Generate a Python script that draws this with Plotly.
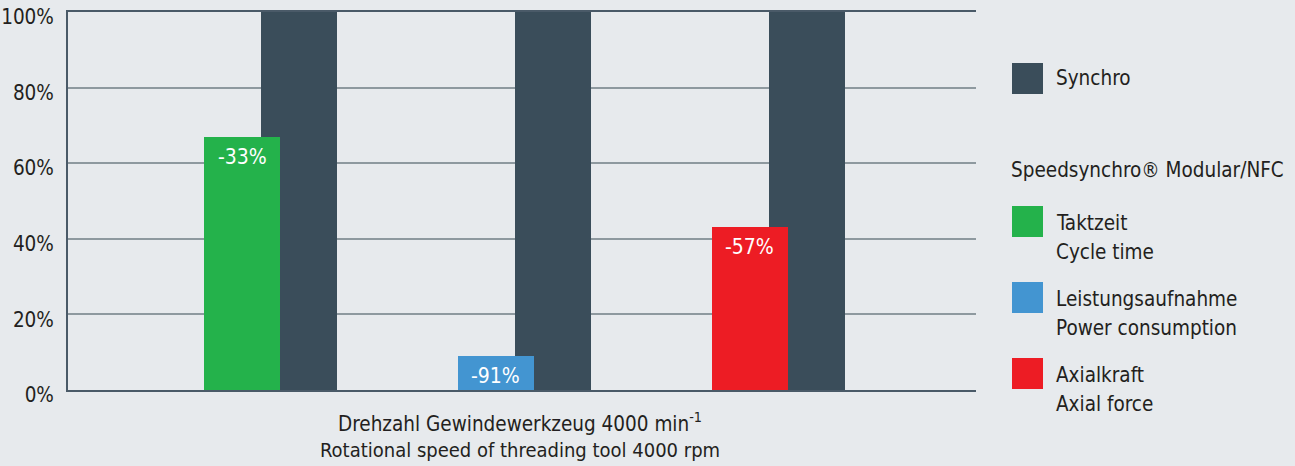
import plotly.graph_objects as go

# ---- data ----
groups = [0, 1, 2]
synchro_values = [100, 100, 100]
speed_values = [67, 9, 43]
speed_labels = ["-33%", "-91%", "-57%"]
speed_colors = ["#24b24b", "#4395d1", "#ed1c24"]
y_ticks = [0, 20, 40, 60, 80, 100]
y_ticktext = ["0%", "20%", "40%", "60%", "80%", "100%"]
legend_items = [
    ("Taktzeit", "Cycle time", "#24b24b"),
    ("Leistungsaufnahme", "Power consumption", "#4395d1"),
    ("Axialkraft", "Axial force", "#ed1c24"),
]
synchro_name = "Synchro"
group_title = "Speedsynchro® Modular/NFC"
axis_line1 = "Drehzahl Gewindewerkzeug 4000 min<sup>-1</sup>"
axis_line2 = "Rotational speed of threading tool 4000 rpm"

DARK = "#3a4d5a"
BG = "#e7eaed"
TXT = "#231f20"
FONT = "DejaVu Sans Condensed, Roboto, sans-serif"

W, H = 1295, 466
L, R, T, B = 68, 976, 12, 390

fig = go.Figure()
fig.add_trace(go.Bar(x=groups, y=synchro_values, width=0.30, offset=-0.0375,
                     marker=dict(color=DARK, line=dict(width=0)), showlegend=False,
                     hoverinfo="skip"))
fig.add_trace(go.Bar(x=groups, y=speed_values, width=0.30, offset=-0.262,
                     marker=dict(color=speed_colors, line=dict(width=0)), showlegend=False,
                     hoverinfo="skip"))

for g, v, lab in zip(groups, speed_values, speed_labels):
    fig.add_annotation(x=g - 0.112, y=v, text=lab, showarrow=False, yanchor="middle",
                       yshift=-20, font=dict(family=FONT, size=21, color="white"))

def px_x(x):
    return (x - L) / (R - L)

def px_y(y):
    return (B - y) / (B - T)

annos = []
shapes = []

def square(x0, y0, color):
    shapes.append(dict(type="rect", xref="paper", yref="paper",
                       x0=px_x(x0), x1=px_x(x0 + 31), y0=px_y(y0 + 31), y1=px_y(y0),
                       fillcolor=color, line=dict(width=0)))

def text(x, y, s, size=20.5, color=TXT, anchor="left"):
    annos.append(dict(xref="paper", yref="paper", x=px_x(x), y=px_y(y), text=s,
                      showarrow=False, xanchor=anchor, yanchor="middle",
                      font=dict(family=FONT, size=size, color=color)))

square(1012, 63, DARK)
text(1054, 78, synchro_name)
text(1009, 170, group_title)
sq_y = [206, 282, 358]
for (l1, l2, c), y0 in zip(legend_items, sq_y):
    square(1012, y0, c)
    text(1054, y0 + 17, l1)
    text(1054, y0 + 46, l2)

text((L + R) / 2 - 2, 423, axis_line1, anchor="center")
text((L + R) / 2 - 2, 450, axis_line2, anchor="center", size=20)

fig.update_layout(
    width=W, height=H,
    margin=dict(l=L, r=W - R, t=T, b=H - B, pad=0, autoexpand=False),
    paper_bgcolor=BG, plot_bgcolor=BG,
    barmode="overlay", bargap=0,
    shapes=shapes, annotations=list(fig.layout.annotations) + annos,
    font=dict(family=FONT, color=TXT),
    xaxis=dict(range=[-0.798, 2.78], showticklabels=False, showgrid=False, zeroline=False,
               showline=True, mirror=True, linecolor="#4a5a68", linewidth=2, ticks="",
               automargin=False),
    yaxis=dict(range=[0, 100], tickvals=y_ticks, ticktext=y_ticktext, showgrid=True,
               gridcolor="#8e999f", gridwidth=1.5, zeroline=False, showline=True,
               linecolor="#4a5a68", linewidth=2, ticks="", ticklabelstandoff=8,
               ticklabelshift=5, automargin=False,
               tickfont=dict(family=FONT, size=20.5, color=TXT)),
)

fig.write_html("out.html", config={"displayModeBar": False},
               post_script="document.body.style.margin='0';document.body.style.background='%s';" % BG)
